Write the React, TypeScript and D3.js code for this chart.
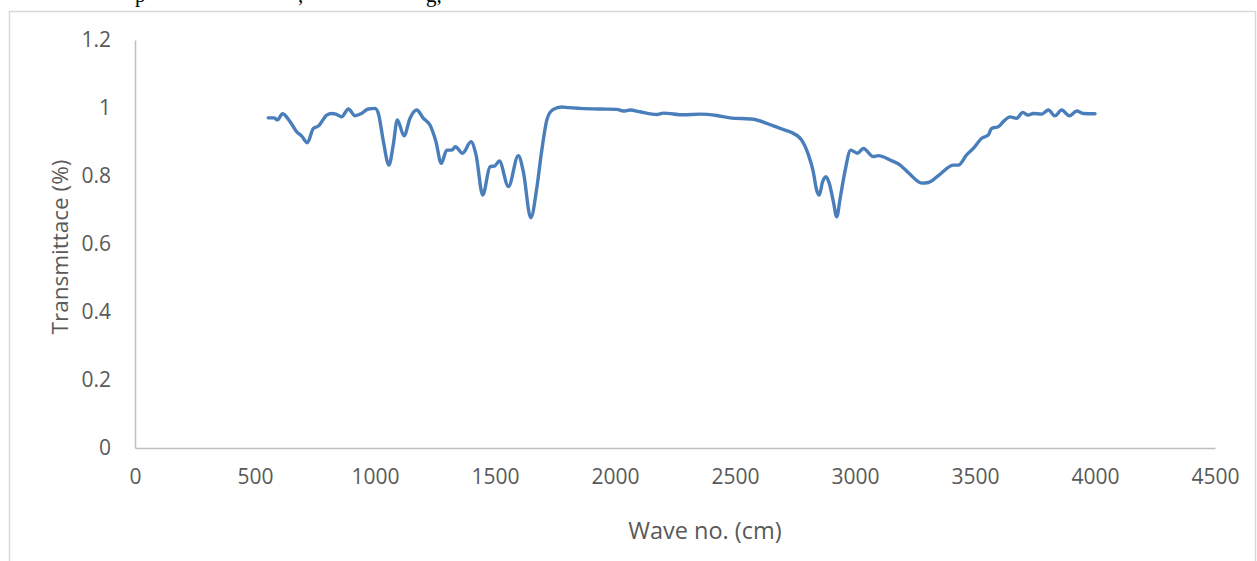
import { useEffect, useRef } from "react";
import * as d3 from "d3";

const W = 1257;
const H = 561;

// FTIR spectrum
const waveNo = [
  555, 579, 593, 615, 646, 674, 694, 718, 743, 764, 799, 819, 837, 861, 889,
  917, 944, 972, 1000, 1014, 1035, 1058, 1076, 1093, 1121, 1146, 1174, 1201,
  1229, 1254, 1276, 1299, 1320, 1335, 1365, 1400, 1421, 1449, 1479, 1500,
  1518, 1556, 1597, 1618, 1649, 1674, 1694, 1718, 1743, 1778, 1806, 1854,
  1938, 2007, 2035, 2063, 2104, 2174, 2201, 2285, 2354, 2424, 2479, 2576,
  2632, 2688, 2729, 2775, 2806, 2826, 2840, 2851, 2865, 2879, 2893, 2910,
  2924, 2938, 2958, 2982, 3010, 3035, 3076, 3097, 3146, 3188, 3225, 3278,
  3306, 3354, 3410, 3431, 3465, 3493, 3528, 3556, 3569, 3597, 3618, 3646,
  3674, 3699, 3722, 3743, 3778, 3806, 3833, 3861, 3893, 3924, 3951, 4000,
];
const transmittance = [
  0.971, 0.971, 0.965, 0.983, 0.96, 0.93, 0.918, 0.898, 0.94, 0.947, 0.979,
  0.984, 0.982, 0.974, 0.997, 0.977, 0.984, 0.997, 0.999, 0.984, 0.901, 0.832,
  0.891, 0.965, 0.918, 0.97, 0.994, 0.97, 0.95, 0.901, 0.837, 0.876, 0.876,
  0.886, 0.867, 0.901, 0.862, 0.744, 0.827, 0.83, 0.844, 0.769, 0.86, 0.813,
  0.677, 0.764, 0.871, 0.97, 0.996, 1.003, 1.001, 0.999, 0.997, 0.996, 0.991,
  0.994, 0.989, 0.981, 0.985, 0.98, 0.982, 0.978, 0.971, 0.967, 0.955, 0.94,
  0.93, 0.908, 0.862, 0.813, 0.759, 0.744, 0.783, 0.798, 0.778, 0.724, 0.68,
  0.734, 0.813, 0.876, 0.867, 0.881, 0.857, 0.86, 0.847, 0.832, 0.808, 0.779,
  0.781, 0.805, 0.832, 0.832, 0.862, 0.881, 0.911, 0.921, 0.94, 0.945, 0.96,
  0.974, 0.97, 0.987, 0.979, 0.984, 0.982, 0.994, 0.977, 0.994, 0.977, 0.991,
  0.984, 0.983,
];
const xTicks = [0, 500, 1000, 1500, 2000, 2500, 3000, 3500, 4000, 4500];
const yTicks = [0, 0.2, 0.4, 0.6, 0.8, 1, 1.2];

const FONT = "'Open Sans', sans-serif";
const GREY = "#595959";

export default function App() {
  const ref = useRef<SVGSVGElement>(null);

  useEffect(() => {
    const svg = d3.select(ref.current);
    svg.selectAll("*").remove();

    const x = d3.scaleLinear().domain([0, 4500]).range([135, 1215]);
    const y = d3.scaleLinear().domain([0, 1.2]).range([448, 40]);

    // bits of the page text above the figure, cut by the crop
    svg
      .append("g")
      .attr("font-family", "'Liberation Serif', serif")
      .attr("font-size", 21)
      .attr("fill", "#000")
      .selectAll("text")
      .data([
        { t: "p", x: 135 },
        { t: ",", x: 298 },
        { t: "g,", x: 426 },
      ])
      .join("text")
      .attr("x", (d) => d.x)
      .attr("y", 2)
      .text((d) => d.t);

    // chart frame
    svg
      .append("rect")
      .attr("x", 9.5)
      .attr("y", 11.5)
      .attr("width", 1246)
      .attr("height", 600)
      .attr("fill", "none")
      .attr("stroke", "#d9d9d9")
      .attr("stroke-width", 1.5);

    const xAxis = svg
      .append("g")
      .attr("transform", "translate(0,448)")
      .call(
        d3
          .axisBottom(x)
          .tickValues(xTicks)
          .tickSize(0)
          .tickPadding(21)
          .tickFormat((d) => String(d))
      );
    xAxis.select(".domain").attr("stroke", "#bfbfbf").attr("stroke-width", 1.5);
    xAxis
      .selectAll("text")
      .attr("font-family", FONT)
      .attr("font-size", 21)
      .attr("fill", GREY);

    const yAxis = svg
      .append("g")
      .attr("transform", "translate(135,0)")
      .call(
        d3
          .axisLeft(y)
          .tickValues(yTicks)
          .tickSize(0)
          .tickPadding(24)
          .tickFormat((d) => String(d))
      );
    yAxis.select(".domain").attr("stroke", "#bfbfbf").attr("stroke-width", 1.5);
    yAxis
      .selectAll("text")
      .attr("font-family", FONT)
      .attr("font-size", 21)
      .attr("fill", GREY);

    const pts = waveNo.map((w, i) => [w, transmittance[i]] as [number, number]);
    const line = d3
      .line<[number, number]>()
      .x((d) => x(d[0]))
      .y((d) => y(d[1]))
      .curve(d3.curveMonotoneX);

    svg
      .append("path")
      .datum(pts)
      .attr("d", line)
      .attr("fill", "none")
      .attr("stroke", "#4a7ebb")
      .attr("stroke-width", 3.4)
      .attr("stroke-linejoin", "round")
      .attr("stroke-linecap", "round");

    svg
      .append("text")
      .attr("x", 705)
      .attr("y", 539)
      .attr("text-anchor", "middle")
      .attr("font-family", FONT)
      .attr("font-size", 23.5)
      .attr("fill", GREY)
      .text("Wave no. (cm)");

    svg
      .append("text")
      .attr("transform", "translate(68,247) rotate(-90)")
      .attr("text-anchor", "middle")
      .attr("font-family", FONT)
      .attr("font-size", 22.5)
      .attr("fill", GREY)
      .text("Transmittace (%)");
  }, []);

  return (
    <svg
      ref={ref}
      width={W}
      height={H}
      style={{ position: "absolute", left: 0, top: 0, background: "#fff" }}
    />
  );
}
